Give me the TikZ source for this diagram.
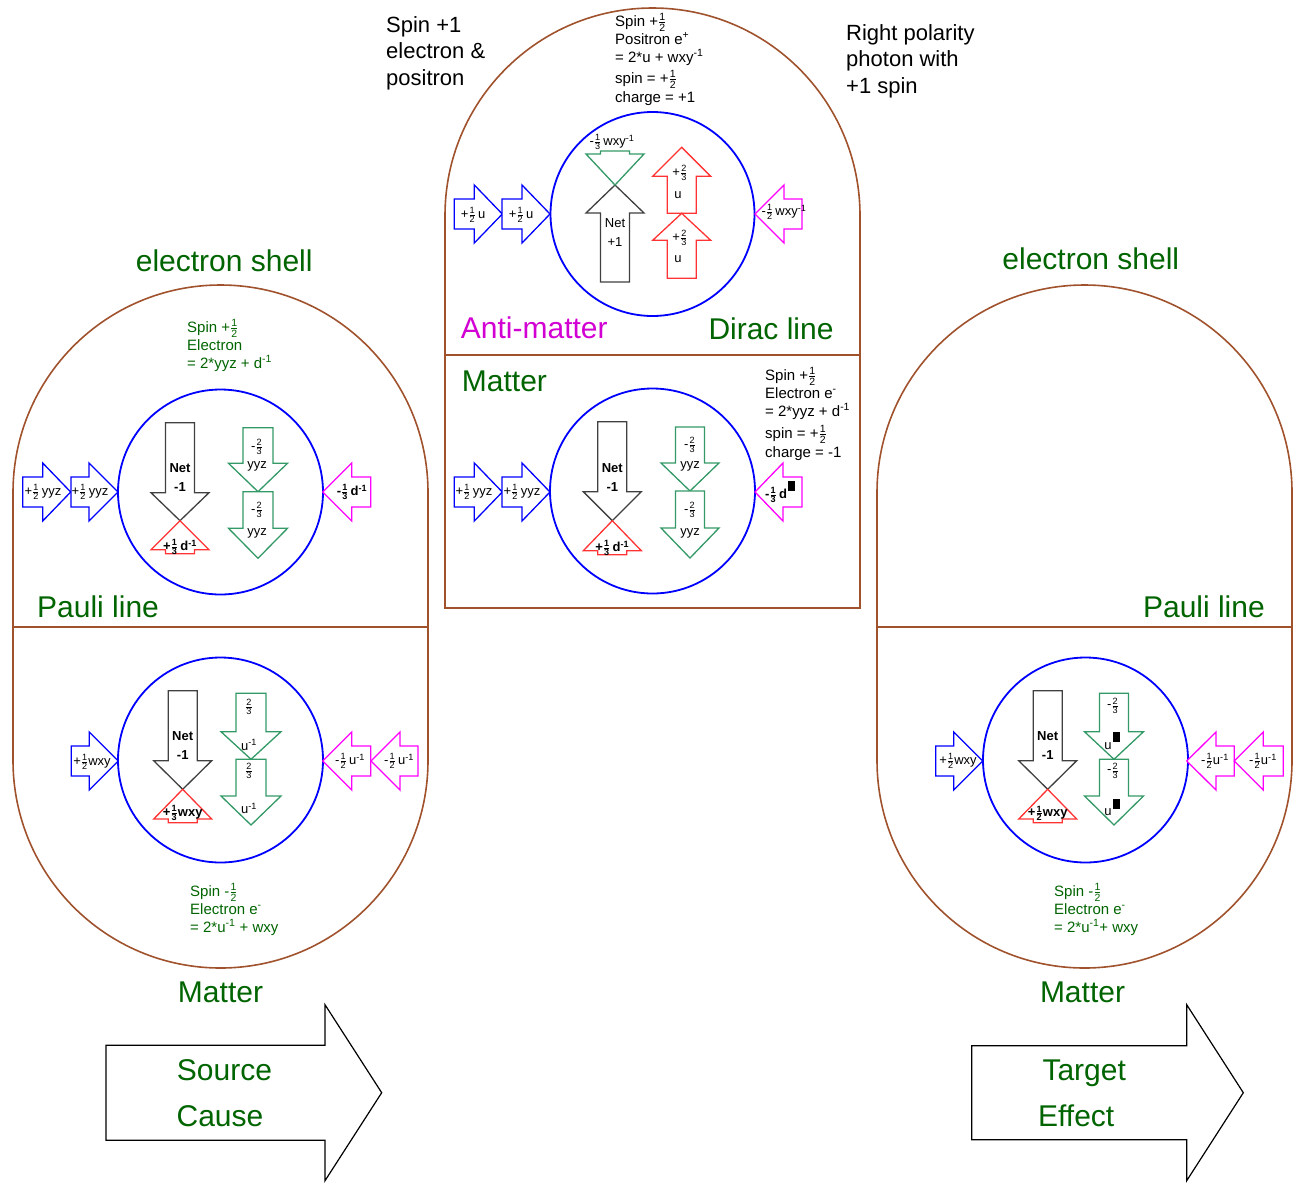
\documentclass[tikz,border=0pt]{standalone}
\usepackage{amsmath}
\usepackage{fontspec}
\setmainfont{Liberation Sans}
\usepackage{tikz}
\definecolor{shellbrn}{RGB}{160,82,45}
\definecolor{dkgreen}{RGB}{0,100,0}
\definecolor{qgreen}{RGB}{51,153,102}
\definecolor{qred}{RGB}{255,51,51}
\definecolor{qmag}{RGB}{255,0,255}
\definecolor{antimag}{RGB}{210,0,210}
\definecolor{netgray}{RGB}{64,64,64}
\newcommand{\fr}[2]{\ensuremath{\genfrac{}{}{0.5pt}{1}{\text{#1}}{\text{#2}}}}
\newcommand{\inv}{\textsuperscript{-1}}
\newcommand{\blk}{\kern1pt\raisebox{7pt}{\rule{7pt}{10pt}}}
% block arrow: style, tip, rotation, length, head length, head half width, body half width
\newcommand{\blockarr}[7]{%
  \begin{scope}[shift={(#2)},rotate=#3]
    \draw[barr,#1] (0,0) -- (-#5,-#6) -- (-#5,-#7) -- (-#4,-#7) -- (-#4,#7)
      -- (-#5,#7) -- (-#5,#6) -- cycle;
  \end{scope}}

\begin{document}
\begin{tikzpicture}[x=1pt,y=-1pt,
  shell/.style={draw=shellbrn,line width=1.6pt},
  orbit/.style={draw=blue,line width=1.8pt},
  barr/.style={fill=white,line width=1.3pt,line join=miter},
  lbl/.style={text=dkgreen,font=\fontsize{30}{36}\selectfont,inner sep=0pt},
  note/.style={font=\fontsize{22}{26.5}\selectfont,align=left,inner sep=0pt},
  info/.style={font=\fontsize{15}{18}\selectfont,align=left,inner sep=0pt},
  tag/.style={font=\fontsize{13}{15}\selectfont,inner sep=0pt},
  btag/.style={font=\fontsize{13}{18.5}\selectfont\bfseries,align=center,inner sep=0pt}]
\useasboundingbox (0,0) rectangle (1299,1184);

% shells
\draw[shell] (13,760.5) -- (13,492.5) arc[start angle=180,end angle=0,radius=207.5pt]
  -- (428,760.5) arc[start angle=0,end angle=-180,radius=207.5pt] -- cycle;
\draw[shell] (13,627) -- (428,627);
\draw[shell] (445,608) -- (445,215.5) arc[start angle=180,end angle=0,radius=207.5pt]
  -- (860,608) -- cycle;
\draw[shell] (445,355) -- (860,355);
\draw[shell] (877,760.5) -- (877,492.5) arc[start angle=180,end angle=0,radius=207.5pt]
  -- (1292,760.5) arc[start angle=0,end angle=-180,radius=207.5pt] -- cycle;
\draw[shell] (877,627) -- (1292,627);

% orbits
\draw[orbit] (652.5,214) circle[radius=102pt];
\draw[orbit] (652.5,491) circle[radius=102.5pt];
\draw[orbit] (220.5,492) circle[radius=102.5pt];
\draw[orbit] (220.5,760) circle[radius=102.5pt];
\draw[orbit] (1085.5,760) circle[radius=102.5pt];

% top centre: anti-matter
\blockarr{draw=blue}{502.3,214}{0}{48}{28}{29}{15}
\blockarr{draw=blue}{550,214}{0}{48}{28}{29}{15}
\blockarr{draw=qmag}{755,214}{180}{47}{29}{29}{15}
\blockarr{draw=netgray}{615,185}{90}{97}{28}{29}{14.5}
\blockarr{draw=qgreen}{615,185}{-90}{34}{31}{29}{14.5}
\blockarr{draw=qred}{681.7,147.3}{90}{66}{29}{29}{14.5}
\blockarr{draw=qred}{681.7,213.3}{90}{65}{27}{29}{14.5}
\node[tag] (tcb1) at (473,215) {+\fr12\,u};
\node[tag] (tcb2) at (521,215) {+\fr12\,u};
\node[tag] (tcm) at (784,212) {-\fr12\,wxy\inv};
\node[tag] (tcg) at (612,142) {-\fr13\,wxy\inv};
\node[btag,font=\fontsize{13}{18.5}\selectfont] (tcnet) at (615,232.5) {Net\\+1};
\node[tag] (tcr1a) at (680,173) {+\fr23};
\node[tag] (tcr1b) at (678,195) {u};
\node[tag] (tcr2a) at (680,238) {+\fr23};
\node[tag] (tcr2b) at (678,259) {u};

% centre: matter
\blockarr{draw=blue}{502.3,492}{0}{48}{28}{29}{15}
\blockarr{draw=blue}{550,492}{0}{48}{28}{29}{15}
\blockarr{draw=qmag}{755,492}{180}{47}{28}{29}{15}
\blockarr{draw=netgray}{612.3,520.7}{-90}{99}{29}{29}{14.5}
\blockarr{draw=qred}{612.3,520.7}{90}{34}{30}{29}{14.5}
\blockarr{draw=qgreen}{690,491}{-90}{64}{28}{29}{14.5}
\blockarr{draw=qgreen}{690,558}{-90}{67}{30}{29}{14.5}
\node[tag] (cmb1) at (474,492) {+\fr12\,yyz};
\node[tag] (cmb2) at (522,492) {+\fr12\,yyz};
\node[tag,font=\fontsize{13}{15}\selectfont\bfseries] (cmm) at (780,492) {-\fr13\,d\blk};
\node[btag] (cmnet) at (612.3,477.5) {Net\\-1};
\node[tag,font=\fontsize{13}{15}\selectfont\bfseries] (cmr) at (612.3,548) {+\fr13\,d\inv};
\node[tag] (cmg1a) at (690,445) {-\fr23};
\node[tag] (cmg1b) at (690,466.7) {yyz};
\node[tag] (cmg2a) at (690,510) {-\fr23};
\node[tag] (cmg2b) at (690,533.3) {yyz};

% left shell, upper half
\blockarr{draw=blue}{70.7,492}{0}{48}{28}{29}{15}
\blockarr{draw=blue}{118,492}{0}{47}{29}{29}{15}
\blockarr{draw=qmag}{322.7,492}{180}{48}{29}{29}{15}
\blockarr{draw=netgray}{180,520.7}{-90}{98}{28}{29}{14.5}
\blockarr{draw=qred}{180,520.7}{90}{33}{29}{29}{14.5}
\blockarr{draw=qgreen}{258,491.7}{-90}{64}{28.4}{29.5}{15}
\blockarr{draw=qgreen}{258,558.3}{-90}{66.6}{30}{29.5}{15}
\node[tag] (ltb1) at (43,492) {+\fr12\,yyz};
\node[tag] (ltb2) at (90,492) {+\fr12\,yyz};
\node[tag,font=\fontsize{13}{15}\selectfont\bfseries] (ltm) at (352,492) {-\fr13\,d\inv};
\node[btag] (ltnet) at (180,477.5) {Net\\-1};
\node[tag,font=\fontsize{13}{15}\selectfont\bfseries] (ltr) at (180,547) {+\fr13\,d\inv};
\node[tag] (ltg1a) at (257,446.7) {-\fr23};
\node[tag] (ltg1b) at (257,466.7) {yyz};
\node[tag] (ltg2a) at (257,510) {-\fr23};
\node[tag] (ltg2b) at (257,533.3) {yyz};

% left shell, lower half
\blockarr{draw=blue}{118.3,761}{0}{47}{29}{29}{15}
\blockarr{draw=qmag}{322.7,761}{180}{48}{29}{29}{15}
\blockarr{draw=qmag}{371,761}{180}{47}{29}{29}{15}
\blockarr{draw=netgray}{182.7,789.3}{-90}{98.6}{28.6}{29}{14.5}
\blockarr{draw=qred}{182.7,789.3}{90}{33.4}{29.7}{29}{14.5}
\blockarr{draw=qgreen}{251,759.3}{-90}{66}{27.6}{30}{15}
\blockarr{draw=qgreen}{251,825}{-90}{65.7}{29}{30}{15}
\node[tag] (lbb) at (92,761.7) {+\fr12wxy};
\node[tag] (lbm1) at (350,761) {-\fr12\,u\inv};
\node[tag] (lbm2) at (399,761) {-\fr12\,u\inv};
\node[btag] (lbnet) at (182.7,745.5) {Net\\-1};
\node[tag,font=\fontsize{13}{15}\selectfont\bfseries] (lbr) at (182.7,813.3) {+\fr13wxy};
\node[tag] (lbg1a) at (249,707) {\fr23};
\node[tag] (lbg1b) at (249,745) {u\inv};
\node[tag] (lbg2a) at (249,771) {\fr23};
\node[tag] (lbg2b) at (249,808.3) {u\inv};

% right shell, lower half
\blockarr{draw=blue}{982.7,761}{0}{47}{29}{29}{15}
\blockarr{draw=qmag}{1186.7,761}{180}{47.6}{29.3}{29}{15}
\blockarr{draw=qmag}{1234.3,761}{180}{49}{29}{29}{15}
\blockarr{draw=netgray}{1047.7,789.3}{-90}{98.6}{28.6}{29}{14.5}
\blockarr{draw=qred}{1047.7,789.3}{90}{33.4}{29.7}{29}{14.5}
\blockarr{draw=qgreen}{1114,759.3}{-90}{66}{27.6}{29.5}{14.5}
\blockarr{draw=qgreen}{1114,825}{-90}{65.7}{29}{29.5}{14.5}
\node[tag] (rbb) at (958,761) {+\fr12wxy};
\node[tag] (rbm1) at (1215,761) {-\fr12u\inv};
\node[tag] (rbm2) at (1263,761) {-\fr12u\inv};
\node[btag] (rbnet) at (1047.7,745.5) {Net\\-1};
\node[tag,font=\fontsize{13}{15}\selectfont\bfseries] (rbr) at (1047.7,813.3) {+\fr12wxy};
\node[tag] (rbg1a) at (1113,705.5) {-\fr23};
\node[tag] (rbg1b) at (1112,741) {u\blk};
\node[tag] (rbg2a) at (1113,770.5) {-\fr23};
\node[tag] (rbg2b) at (1112,807.5) {u\blk};

% source and target
\blockarr{draw=black,line width=1.2pt}{381.7,1092.7}{0}{275.7}{56.7}{88}{47.5}
\blockarr{draw=black,line width=1.2pt}{1243.3,1092.7}{0}{271.6}{56.6}{88}{47}

% captions
\node[note,anchor=north west] (spinone) at (386,16) {Spin +1\\electron \&\\positron};
\node[note,anchor=north west] (photon) at (846,24) {Right polarity\\photon with\\+1 spin};
\node[info,anchor=north west] (posit) at (615,13) {Spin +\fr12\\Positron e\textsuperscript{+}\\= 2*u + wxy\inv\\[3pt]spin = +\fr12\\[1pt]charge = +1};
\node[info,anchor=north west] (elecc) at (765,367) {Spin +\fr12\\Electron e\textsuperscript{-}\\= 2*yyz + d\inv\\[4pt]spin = +\fr12\\[1pt]charge = -1};
\node[info,text=dkgreen,anchor=north west] (elecl) at (187,319) {Spin +\fr12\\Electron\\= 2*yyz + d\inv};
\node[info,text=dkgreen,anchor=north west] (elecb) at (190,883) {Spin -\fr12\\Electron e\textsuperscript{-}\\= 2*u\inv{} + wxy};
\node[info,text=dkgreen,anchor=north west] (elecr) at (1054,883) {Spin -\fr12\\Electron e\textsuperscript{-}\\= 2*u\inv+ wxy};

\node[lbl,anchor=base] (shl) at (224.2,271.7) {electron shell};
\node[lbl,anchor=base] (shr) at (1090.8,269.3) {electron shell};
\node[lbl,anchor=base west] (paul) at (37,617) {Pauli line};
\node[lbl,anchor=base east] (paur) at (1265,617.3) {Pauli line};
\node[lbl,anchor=base west,text=antimag] (anti) at (460.7,338.3) {Anti-matter};
\node[lbl,anchor=base west] (dirac) at (708.3,339) {Dirac line};
\node[lbl,anchor=base west] (matc) at (461.7,391) {Matter};
\node[lbl,anchor=base] (matl) at (220.5,1002.3) {Matter};
\node[lbl,anchor=base] (matr) at (1082.5,1002.3) {Matter};
\node[lbl,anchor=base] (src) at (224.5,1080) {Source};
\node[lbl,anchor=base] (cause) at (220,1126.7) {Cause};
\node[lbl,anchor=base] (tgt) at (1084.2,1080) {Target};
\node[lbl,anchor=base] (eff) at (1076.2,1126.7) {Effect};
\end{tikzpicture}
\end{document}
